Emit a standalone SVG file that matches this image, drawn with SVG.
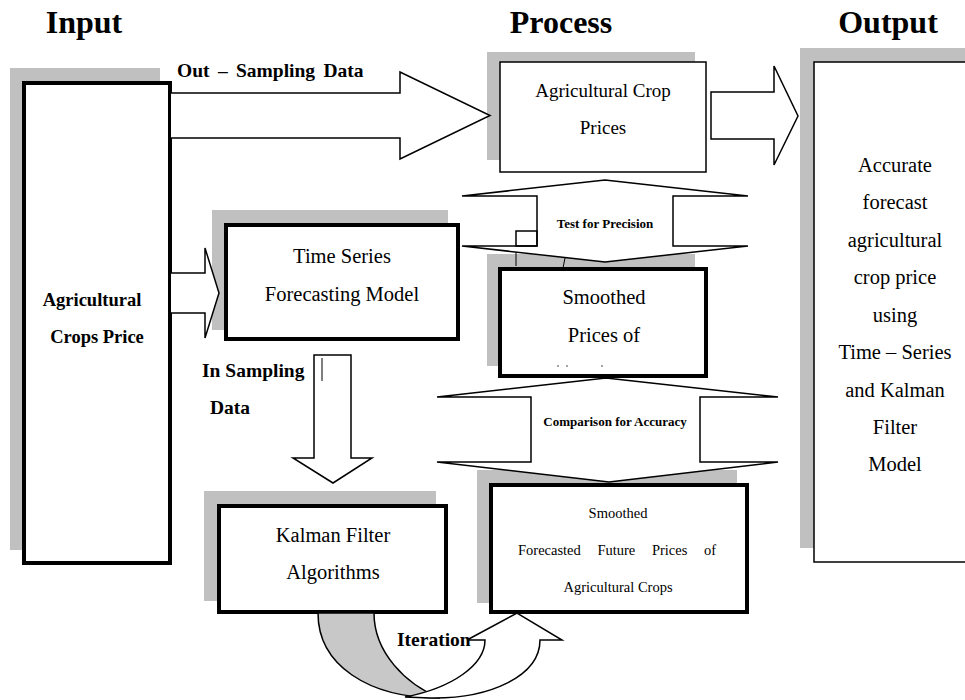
<svg xmlns="http://www.w3.org/2000/svg" width="965" height="700" viewBox="0 0 965 700">
<style>
.shadow{fill:#c0c0c0;stroke:none}
.thick{fill:#fff;stroke:#000;stroke-width:4}
.thin{fill:#fff;stroke:#000;stroke-width:1.5}
.arrow{fill:#fff;stroke:#000;stroke-width:1.5;stroke-linejoin:miter}
.head{font-family:"Liberation Serif","Times New Roman",serif;font-weight:bold;font-size:32px;fill:#000;text-anchor:middle}
.lbl{font-family:"Liberation Serif","Times New Roman",serif;font-weight:bold;font-size:19.5px;fill:#000}
.txt{font-family:"Liberation Serif","Times New Roman",serif;font-size:20.5px;fill:#000;text-anchor:middle}
.small{font-family:"Liberation Serif","Times New Roman",serif;font-size:14.5px;fill:#000}
.tiny{font-family:"Liberation Serif","Times New Roman",serif;font-weight:bold;font-size:13px;fill:#000;text-anchor:middle}
</style>
<rect width="965" height="700" fill="#fff"/>
<text class="head" x="84" y="33">Input</text>
<text class="head" x="561" y="33">Process</text>
<text class="head" x="888" y="33">Output</text>

<g id="input">
<rect class="shadow" x="10" y="68" width="150" height="482"/>
<rect class="thick" x="24" y="83" width="146" height="480"/>
<text class="lbl" x="92" y="306" text-anchor="middle" style="font-size:18.5px">Agricultural</text>
<text class="lbl" x="97" y="343" text-anchor="middle" style="font-size:18.5px">Crops Price</text>
</g>

<g id="output">
<rect class="shadow" x="800" y="48" width="170" height="500"/>
<rect class="thin" x="814" y="62" width="160" height="500"/>
<text class="txt" x="895" y="172">Accurate</text>
<text class="txt" x="895" y="209">forecast</text>
<text class="txt" x="895" y="247">agricultural</text>
<text class="txt" x="895" y="284">crop price</text>
<text class="txt" x="895" y="322">using</text>
<text class="txt" x="895" y="359">Time – Series</text>
<text class="txt" x="895" y="397">and Kalman</text>
<text class="txt" x="895" y="434">Filter</text>
<text class="txt" x="895" y="471">Model</text>
</g>

<g id="crop-prices">
<rect class="shadow" x="487" y="52" width="208" height="108"/>
<rect class="thin" x="500" y="62" width="206" height="110"/>
<text class="txt" x="603" y="97" style="font-size:19px">Agricultural Crop</text>
<text class="txt" x="603" y="134" style="font-size:19px">Prices</text>
</g>

<g id="time-series">
<rect class="shadow" x="212" y="210" width="236" height="120"/>
<rect class="thick" x="226" y="225" width="232" height="114"/>
<text class="txt" x="342" y="263">Time Series</text>
<text class="txt" x="342" y="301">Forecasting Model</text>
</g>

<g id="smoothed-prices">
<rect class="shadow" x="487" y="254" width="208" height="112"/>
<rect class="thick" x="500" y="269" width="206" height="107"/>
<text class="txt" x="604" y="304">Smoothed</text>
<text class="txt" x="604" y="342">Prices of</text>
<circle cx="558" cy="366" r="0.7" fill="#000"/>
<circle cx="567" cy="366" r="0.7" fill="#000"/>
<circle cx="602" cy="366" r="0.7" fill="#000"/>
</g>

<g id="kalman">
<rect class="shadow" x="204" y="491" width="232" height="110"/>
<rect class="thick" x="219" y="506" width="227" height="106"/>
<text class="txt" x="333" y="542">Kalman Filter</text>
<text class="txt" x="333" y="579">Algorithms</text>
</g>

<g id="forecast">
<rect class="shadow" x="477" y="470" width="260" height="133"/>
<rect class="thick" x="491" y="485" width="256" height="127"/>
<text class="small" x="618" y="518" text-anchor="middle">Smoothed</text>
<text class="small" x="518" y="555" style="text-anchor:start;word-spacing:13px">Forecasted Future Prices of</text>
<text class="small" x="618" y="592" text-anchor="middle">Agricultural Crops</text>
</g>

<g id="connectors">
<path class="arrow" d="M171,93 L400,93 L400,72 L490,115.5 L400,159 L400,138 L171,138"/>
<text class="lbl" x="177" y="77" style="word-spacing:3.5px">Out – Sampling Data</text>
<path class="arrow" d="M711,92 L774,92 L774,66 L798,116 L774,165 L774,139 L711,139 Z"/>
<path class="arrow" d="M171,273 L205,273 L205,248 L219,293 L205,338 L205,313 L171,313"/>
<path class="arrow" d="M314,355 L351,355 L351,458 L372,458 L333,483 L293,458 L314,458 Z"/>
<line x1="322" y1="358" x2="322" y2="381" stroke="#000" stroke-width="1"/>
<text class="lbl" x="202" y="377">In Sampling</text>
<text class="lbl" x="210" y="414">Data</text>
<line x1="516" y1="246" x2="516" y2="266" stroke="#000" stroke-width="1"/>
<line x1="565" y1="258" x2="563" y2="268" stroke="#000" stroke-width="1"/>
<path class="arrow" d="M605,180 L748,196 L673,196 L673,246 L748,246 L605,262 L462,246 L537,246 L537,196 L462,196 Z"/>
<rect x="516" y="231" width="21" height="15" fill="none" stroke="#000" stroke-width="1.5"/>
<text class="tiny" x="605" y="228">Test for Precision</text>
<path class="arrow" d="M606,378 L778,397 L700,397 L700,462 L778,462 L609,482 L437,462 L531,462 L531,397 L437,397 Z"/>
<text class="tiny" x="615" y="426">Comparison for Accuracy</text>
<path d="M318,613 C318,665 368,698 440,698 C405,684 374,652 374,613 Z" fill="#c8c8c8" stroke="#000" stroke-width="1.5"/>
<path class="arrow" d="M405,697 C452,688 485,665 485,640 L467,640 L517,613 L562,640 L540,640 C540,676 490,699 430,698 Z"/>
<text class="lbl" x="397" y="646">Iteration</text>
</g>
</svg>
